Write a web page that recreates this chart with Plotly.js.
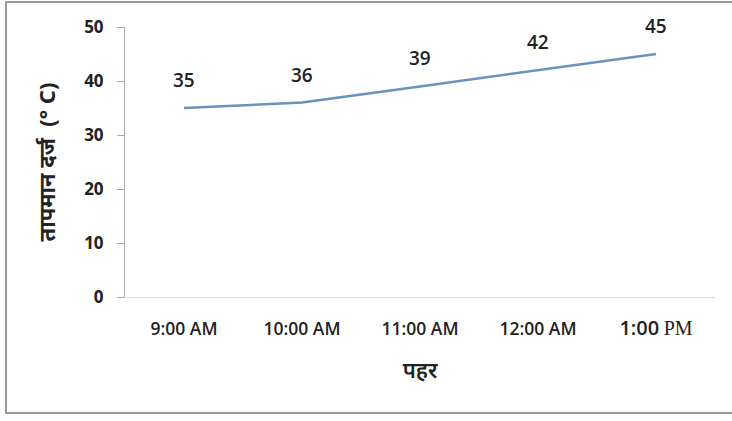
<!DOCTYPE html>
<html>
<head>
<meta charset="utf-8">
<script src="https://cdn.plot.ly/plotly-3.0.1.min.js"></script>
<style>
html,body{margin:0;padding:0;background:#fff;overflow:hidden;}
#chart{width:732px;height:421px;}
</style>
</head>
<body>
<div id="chart"></div>
<script>
const categories = ["9:00 AM", "10:00 AM", "11:00 AM", "12:00 AM", "1:00 PM"];
const tickLabels = ["9:00 AM", "10:00 AM", "11:00 AM", "12:00 AM",
  "<span style=\"font-size:20px\">1:00</span> <span style=\"font-family:'Liberation Serif',serif;font-size:20px;font-weight:normal\">PM</span>"];
const temperatures = [35, 36, 39, 42, 45];
const yTitle = "तापमान दर्ज  (° C)";
const xTitle = "पहर";

const trace = {
  x: categories,
  y: temperatures,
  type: "scatter",
  mode: "lines",
  line: {color: "#6a92bd", width: 2.5},
  hoverinfo: "skip"
};

const annotations = categories.map((c, i) => ({
  x: c, y: temperatures[i], xref: "x", yref: "y",
  text: String(temperatures[i]), showarrow: false,
  yshift: 28, font: {family: "Open Sans, sans-serif", size: 19, color: "#222", weight: 600}
}));

const layout = {
  width: 732, height: 421,
  margin: {l: 125, r: 17, t: 27, b: 124},
  paper_bgcolor: "#fff", plot_bgcolor: "#fff",
  showlegend: false,
  font: {family: "Open Sans, sans-serif", color: "#222"},
  xaxis: {
    type: "category",
    tickvals: categories, ticktext: tickLabels,
    range: [-0.5, 4.5],
    showgrid: false, zeroline: false,
    showline: true, linecolor: "#dddddd", linewidth: 1,
    ticks: "", ticklabelstandoff: 16,
    tickfont: {size: 17.5, color: "#222", weight: 600},
    title: {text: xTitle, standoff: 22, font: {size: 22, color: "#222", family: "Noto Sans, sans-serif", weight: 600}}
  },
  yaxis: {
    range: [0, 50], dtick: 10,
    showgrid: false, zeroline: false,
    showline: true, linecolor: "#aaaaaa", linewidth: 1,
    ticks: "outside", ticklen: 7, tickcolor: "#aaaaaa",
    ticklabelstandoff: 10,
    tickfont: {size: 17, color: "#222", weight: 700},
    title: {text: yTitle, standoff: 22, font: {size: 22, color: "#222", family: "Noto Sans, sans-serif", weight: 700}}
  },
  annotations: annotations,
  shapes: [{
    type: "rect", xref: "paper", yref: "paper",
    x0: (6 - 125) / 590, x1: (800 - 125) / 590,
    y0: (297 - 413) / 270, y1: (297 - 2) / 270,
    line: {color: "#999999", width: 2}, fillcolor: "rgba(0,0,0,0)", layer: "below"
  }]
};

Plotly.newPlot("chart", [trace], layout, {displayModeBar: false, staticPlot: true});
</script>
</body>
</html>
